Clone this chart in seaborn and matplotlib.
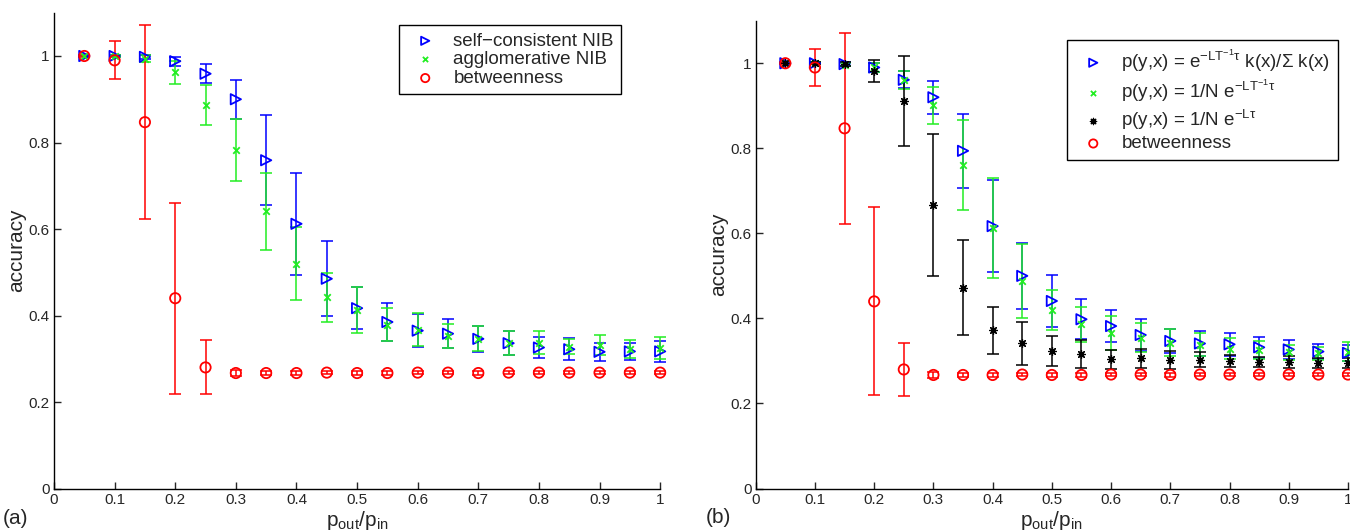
import matplotlib
matplotlib.use('Agg')
import matplotlib.pyplot as plt
import numpy as np
import pandas as pd
import seaborn as sns

# x positions: p_out / p_in
p_ratio = [0.05, 0.10, 0.15, 0.20, 0.25, 0.30, 0.35, 0.40, 0.45, 0.50,
           0.55, 0.60, 0.65, 0.70, 0.75, 0.80, 0.85, 0.90, 0.95, 1.00]

# panel (a)
sc_nib_a = [1.0, 1.0, 0.998, 0.988, 0.959, 0.900, 0.759, 0.612, 0.485, 0.417,
            0.385, 0.365, 0.358, 0.346, 0.336, 0.326, 0.322, 0.316, 0.317, 0.317]
sc_nib_a_err = [0.0, 0.002, 0.004, 0.010, 0.022, 0.045, 0.104, 0.118, 0.087, 0.048,
                0.045, 0.038, 0.034, 0.030, 0.028, 0.024, 0.025, 0.021, 0.020, 0.025]
agg_nib_a = [1.0, 1.0, 0.994, 0.962, 0.887, 0.783, 0.641, 0.520, 0.442, 0.413,
             0.379, 0.367, 0.352, 0.346, 0.337, 0.337, 0.328, 0.331, 0.323, 0.325]
agg_nib_a_err = [0.0, 0.002, 0.008, 0.027, 0.046, 0.072, 0.089, 0.084, 0.056, 0.053,
                 0.038, 0.038, 0.028, 0.029, 0.028, 0.027, 0.018, 0.023, 0.021, 0.025]

# betweenness (same run in both panels)
betw = [1.0, 0.99, 0.847, 0.44, 0.28, 0.267, 0.267, 0.267, 0.268, 0.267,
        0.267, 0.268, 0.268, 0.267, 0.268, 0.268, 0.268, 0.268, 0.268, 0.268]
betw_err = [0.002, 0.044, 0.224, 0.221, 0.0625, 0.006, 0.004, 0.004, 0.004, 0.004,
            0.004, 0.004, 0.004, 0.004, 0.004, 0.004, 0.004, 0.004, 0.004, 0.003]

# panel (b)
kx_b = [1.0, 1.0, 0.998, 0.99, 0.961, 0.920, 0.794, 0.617, 0.500, 0.441,
        0.398, 0.382, 0.361, 0.347, 0.341, 0.339, 0.332, 0.327, 0.322, 0.319]
kx_b_err = [0.0, 0.002, 0.004, 0.01, 0.02, 0.0385, 0.0865, 0.1085, 0.078, 0.061,
            0.047, 0.0385, 0.037, 0.028, 0.03, 0.0275, 0.025, 0.0215, 0.0175, 0.019]
inv_b = [1.0, 1.0, 0.997, 0.99, 0.961, 0.901, 0.761, 0.612, 0.488, 0.420,
         0.386, 0.366, 0.355, 0.343, 0.338, 0.329, 0.326, 0.320, 0.318, 0.322]
inv_b_err = [0.0, 0.002, 0.004, 0.01, 0.021, 0.044, 0.105, 0.1175, 0.088, 0.0475,
             0.0415, 0.0395, 0.034, 0.031, 0.027, 0.024, 0.0205, 0.018, 0.015, 0.022]
lap_b = [1.0, 1.0, 0.998, 0.982, 0.911, 0.667, 0.472, 0.372, 0.341, 0.323,
         0.316, 0.304, 0.306, 0.303, 0.303, 0.300, 0.297, 0.298, 0.296, 0.295]
lap_b_err = [0.0, 0.002, 0.004, 0.026, 0.106, 0.1665, 0.1115, 0.0555, 0.051, 0.0345,
             0.0325, 0.022, 0.0215, 0.0215, 0.0175, 0.0135, 0.0115, 0.0135, 0.0115, 0.0125]

sns.set_theme(style='white')
plt.rcParams['font.family'] = ['Liberation Sans', 'DejaVu Sans']
plt.rcParams['mathtext.fontset'] = 'custom'
plt.rcParams['mathtext.rm'] = 'Liberation Sans'
plt.rcParams['mathtext.it'] = 'Liberation Sans:italic'
plt.rcParams['mathtext.default'] = 'regular'

BLUE, GREEN, BLACK, RED = '#0000ff', '#22ee22', '#000000', '#ff0000'

fig = plt.figure(figsize=(13.5, 5.31), dpi=100)
ax_a = fig.add_axes([0.040, 0.080, 0.449, 0.896])
ax_b = fig.add_axes([0.5598, 0.080, 0.4387, 0.881])


def draw_series(ax, y, err, color, marker, size, label, lw=1.3):
    df = pd.DataFrame({'x': p_ratio, 'y': y, 'err': err})
    ax.errorbar(df['x'], df['y'], yerr=df['err'], fmt='none', ecolor=color,
                elinewidth=1.1, capsize=4.3, capthick=1.1, clip_on=False)
    if marker in ('>', 'o'):
        sns.scatterplot(data=df, x='x', y='y', ax=ax, marker=marker, s=size,
                        facecolors='none', edgecolor=color, color=color,
                        linewidth=lw, label=label, clip_on=False, zorder=3)
    else:
        sns.scatterplot(data=df, x='x', y='y', ax=ax, marker=marker, s=size,
                        color=color, linewidth=lw, label=label,
                        clip_on=False, zorder=3)


def style_axes(ax, tag):
    ax.set_xlim(0, 1)
    ax.set_ylim(0, 1.1)
    ax.set_xticks(np.arange(0, 1.01, 0.1))
    ax.set_xticklabels(['0', '0.1', '0.2', '0.3', '0.4', '0.5', '0.6', '0.7', '0.8', '0.9', '1'])
    ax.set_yticks([0, 0.2, 0.4, 0.6, 0.8, 1.0])
    ax.set_yticklabels(['0', '0.2', '0.4', '0.6', '0.8', '1'])
    ax.tick_params(direction='in', length=5, width=1, labelsize=11, pad=3,
                   left=True, bottom=True)
    sns.despine(ax=ax)
    for s in ('left', 'bottom'):
        ax.spines[s].set_color('black')
        ax.spines[s].set_linewidth(1)
    ax.set_xlabel(r'p$_{out}$/p$_{in}$', fontsize=15, labelpad=2)
    ax.set_ylabel('accuracy', fontsize=15, labelpad=2)
    ax.text(-0.085, -0.062, tag, transform=ax.transAxes, fontsize=15,
            ha='left', va='center')


def add_legend(ax, anchor, spacing):
    leg = ax.legend(loc='upper right', bbox_to_anchor=anchor, borderaxespad=0,
                    fontsize=13.5, frameon=True, fancybox=False,
                    edgecolor='black', framealpha=1, handletextpad=0.5,
                    borderpad=0.4, labelspacing=spacing, handlelength=2.0,
                    markerscale=0.8)
    leg.get_frame().set_linewidth(1)


# panel (a)
draw_series(ax_a, sc_nib_a, sc_nib_a_err, BLUE, '>', 55, 'self\u2212consistent NIB')
draw_series(ax_a, agg_nib_a, agg_nib_a_err, GREEN, 'x', 22, 'agglomerative NIB')
draw_series(ax_a, betw, betw_err, RED, 'o', 55, 'betweenness')
style_axes(ax_a, '(a)')
add_legend(ax_a, (0.936, 0.974), 0.08)

# panel (b)
draw_series(ax_b, kx_b, kx_b_err, BLUE, '>', 55,
            r'p(y,x) = e$^{-LT^{-1}\tau}$ k(x)/$\Sigma$ k(x)')
draw_series(ax_b, inv_b, inv_b_err, GREEN, 'x', 22,
            r'p(y,x) = 1/N e$^{-LT^{-1}\tau}$')
draw_series(ax_b, lap_b, lap_b_err, BLACK, (8, 2, 0), 32,
            r'p(y,x) = 1/N e$^{-L\tau}$', lw=0.9)
draw_series(ax_b, betw, betw_err, RED, 'o', 55, 'betweenness')
style_axes(ax_b, '(b)')
add_legend(ax_b, (0.983, 0.959), 0.2)

fig.savefig('out.png', dpi=100)
